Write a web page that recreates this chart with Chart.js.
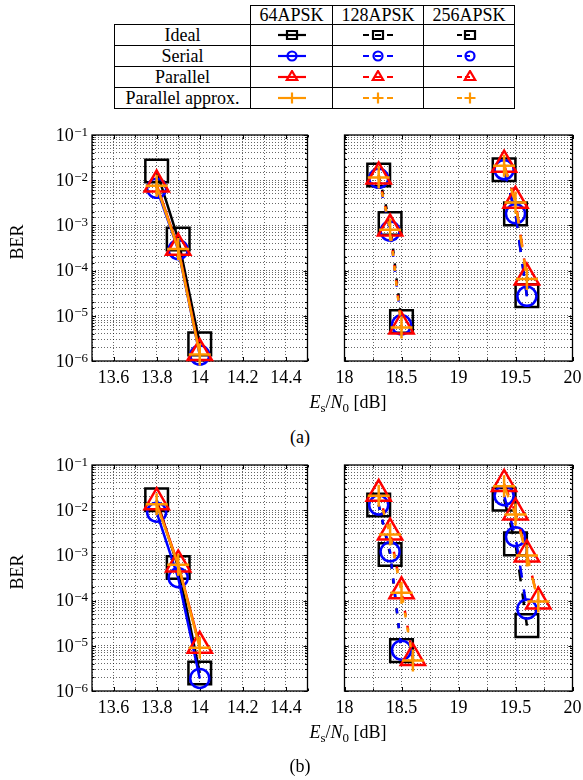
<!DOCTYPE html>
<html>
<head>
<meta charset="utf-8">
<script src="https://cdn.jsdelivr.net/npm/chart.js@4.4.1/dist/chart.umd.min.js"></script>
<style>
  body { margin: 0; width: 583px; height: 780px; overflow: hidden; background: #fff; position: relative;
         font-family: 'Liberation Serif', 'Times New Roman', serif; color: #000; }
  canvas.panel { position: absolute; }
  #legend { position: absolute; left: 114px; top: 5px; border-collapse: collapse; table-layout: fixed; font-size: 18px; }
  #legend td { border: 1px solid #000; padding: 0; text-align: center; line-height: 1; }
  #legend tr.head td { height: 18px; }
  #legend tr.row td { height: 20px; }
  #legend td.blank { border-top: none; border-left: none; }
  #legend canvas { display: block; margin: 0 auto; }
  .xt { position: absolute; width: 200px; text-align: center; font-size: 18px; line-height: 20px; }
  .xt sub { font-size: 13px; vertical-align: -4px; line-height: 0; }
  .cap { position: absolute; width: 60px; text-align: center; font-size: 18px; line-height: 20px; }
</style>
</head>
<body>

<table id="legend">
  <colgroup><col style="width:136px"><col style="width:82px"><col style="width:91px"><col style="width:91px"></colgroup>
  <tr class="head"><td class="blank"></td><td>64APSK</td><td>128APSK</td><td>256APSK</td></tr>
  <tr class="row"><td>Ideal</td><td><canvas width="36" height="14" data-k="ideal" data-v="64"></canvas></td><td><canvas width="36" height="14" data-k="ideal" data-v="128"></canvas></td><td><canvas width="36" height="14" data-k="ideal" data-v="256"></canvas></td></tr>
  <tr class="row"><td>Serial</td><td><canvas width="36" height="14" data-k="serial" data-v="64"></canvas></td><td><canvas width="36" height="14" data-k="serial" data-v="128"></canvas></td><td><canvas width="36" height="14" data-k="serial" data-v="256"></canvas></td></tr>
  <tr class="row"><td>Parallel</td><td><canvas width="36" height="14" data-k="parallel" data-v="64"></canvas></td><td><canvas width="36" height="14" data-k="parallel" data-v="128"></canvas></td><td><canvas width="36" height="14" data-k="parallel" data-v="256"></canvas></td></tr>
  <tr class="row"><td>Parallel approx.</td><td><canvas width="36" height="14" data-k="approx" data-v="64"></canvas></td><td><canvas width="36" height="14" data-k="approx" data-v="128"></canvas></td><td><canvas width="36" height="14" data-k="approx" data-v="256"></canvas></td></tr>
</table>

<canvas class="panel" id="chart-a-left" width="326" height="280" style="left:0px;top:115px"></canvas>
<canvas class="panel" id="chart-a-right" width="265" height="280" style="left:326px;top:115px"></canvas>
<div class="xt" style="left:248px;top:392px"><i>E</i><sub>s</sub>/<i>N</i><sub>0</sub> [dB]</div>
<div class="cap" style="left:270px;top:427px">(a)</div>

<canvas class="panel" id="chart-b-left" width="326" height="280" style="left:0px;top:445px"></canvas>
<canvas class="panel" id="chart-b-right" width="265" height="280" style="left:326px;top:445px"></canvas>
<div class="xt" style="left:248px;top:722px"><i>E</i><sub>s</sub>/<i>N</i><sub>0</sub> [dB]</div>
<div class="cap" style="left:270px;top:756px">(b)</div>

<script>
// ---- data (Es/N0 in dB, BER) ----
var snr64 = [13.8, 13.9, 14.0];
var snr128 = [18.3, 18.4, 18.5];
var snr256 = [19.4, 19.5, 19.6];
var snr128Long = [18.3, 18.4, 18.5, 18.6];
var snr256Long = [19.4, 19.5, 19.6, 19.7];

// (a)
var a64Ideal = [1.6e-2, 5.0e-4, 2.4e-6];
var a64Serial = [6.6e-3, 2.9e-4, 1.35e-6];
var a64Parallel = [8.0e-3, 3.2e-4, 1.5e-6];
var a64Approx = [7.5e-3, 3.0e-4, 1.4e-6];
var a128Ideal = [1.3e-2, 1.1e-3, 7.5e-6];
var a128Serial = [1.1e-2, 7.5e-4, 6.3e-6];
var a128Parallel = [1.2e-2, 8.5e-4, 5.8e-6];
var a128Approx = [1.15e-2, 8.0e-4, 5.5e-6];
var a256Ideal = [1.7e-2, 1.8e-3, 2.8e-5];
var a256Serial = [1.7e-2, 1.8e-3, 2.7e-5];
var a256Parallel = [2.2e-2, 3.5e-3, 7.0e-5];
var a256Approx = [2.1e-2, 3.2e-3, 6.5e-5];

// (b)
var b64Ideal = [1.7e-2, 5.4e-4, 2.5e-6];
var b64Serial = [9.0e-3, 3.2e-4, 1.9e-6];
var b64Parallel = [1.5e-2, 6.3e-4, 1.0e-5];
var b64Approx = [1.35e-2, 6.2e-4, 9.0e-6];
var b128Ideal = [1.3e-2, 1.05e-3, 7.8e-6];
var b128Serial = [1.3e-2, 1.2e-3, 8.0e-6];
var b128Parallel = [2.3e-2, 3.2e-3, 1.6e-4, 5.4e-6];
var b128Approx = [2.1e-2, 2.9e-3, 1.5e-4, 4.7e-6];
var b256Ideal = [1.75e-2, 1.8e-3, 2.8e-5];
var b256Serial = [2.1e-2, 2.6e-3, 6.5e-5];
var b256Parallel = [3.8e-2, 8.9e-3, 1.05e-3, 9.6e-5];
var b256Approx = [3.4e-2, 8.0e-3, 1.0e-3, 9.5e-5];

// axis tick labels
var berDecades = [-6, -5, -4, -3, -2, -1];
var yTitle = 'BER';

// ---- styles ----
var fontFamily = "'Liberation Serif', 'Times New Roman', serif";
var gridColor = 'rgba(0,0,0,0.6)';
var marks = {
    ideal:    { color: '#000000', style: 'rect',     radius: 16,  order: 3, small: 5 },
    serial:   { color: '#0000ff', style: 'circle',   radius: 9.5, order: 2, small: 4.5 },
    parallel: { color: '#ff0000', style: 'triangle', radius: 14,  order: 1, small: 6 },
    approx:   { color: '#ff9600', style: 'cross',    radius: 11,  order: 0, small: 5.5 }
};
var dash128 = [5, 10];
var dash256 = [12, 12];

function pts(xs, ys) {
    return xs.map(function (x, i) { return { x: x, y: ys[i] }; });
}

function series(kind, xs, ys, dash) {
    var m = marks[kind];
    return {
        label: kind,
        data: pts(xs, ys),
        borderColor: m.color,
        backgroundColor: 'rgba(0,0,0,0)',
        borderWidth: 2.5,
        borderDash: dash,
        pointStyle: m.style,
        pointRadius: m.radius,
        pointHoverRadius: m.radius,
        pointBorderWidth: 2.5,
        pointBorderColor: m.color,
        pointBackgroundColor: 'rgba(0,0,0,0)',
        tension: 0,
        fill: false,
        clip: false,
        order: m.order
    };
}

// frame + inward tick marks
var framePlugin = {
    id: 'frame',
    beforeDatasetsDraw: function (chart) {
        var ctx = chart.ctx, a = chart.chartArea;
        ctx.save();
        ctx.strokeStyle = '#000';
        ctx.lineWidth = 1;
        ctx.beginPath();
        chart.scales.y.ticks.forEach(function (t) {
            var py = Math.round(chart.scales.y.getPixelForValue(t.value)) + 0.5;
            var lg = Math.log10(t.value);
            var len = Math.abs(lg - Math.round(lg)) < 1e-6 ? 4 : 2.5;
            ctx.moveTo(a.left, py); ctx.lineTo(a.left + len, py);
            ctx.moveTo(a.right, py); ctx.lineTo(a.right - len, py);
        });
        chart.scales.x.ticks.forEach(function (t) {
            var px = Math.round(chart.scales.x.getPixelForValue(t.value)) + 0.5;
            var len = t.label ? 4 : 2.5;
            ctx.moveTo(px, a.bottom); ctx.lineTo(px, a.bottom - len);
            ctx.moveTo(px, a.top); ctx.lineTo(px, a.top + len);
        });
        ctx.stroke();
        ctx.lineWidth = 1.3;
        ctx.strokeRect(a.left, a.top, a.right - a.left, a.bottom - a.top);
        ctx.restore();
    }
};

// 10^k labels and the BER title on the left panels
var powLabelPlugin = {
    id: 'powLabels',
    afterDraw: function (chart, args, opts) {
        if (!opts.show) return;
        var ctx = chart.ctx, a = chart.chartArea, ys = chart.scales.y;
        var right = a.left - 4;
        ctx.save();
        ctx.fillStyle = '#000';
        berDecades.forEach(function (p) {
            var py = ys.getPixelForValue(Math.pow(10, p));
            var sup = '\u2212' + Math.abs(p);
            ctx.font = '13px ' + fontFamily;
            var sw = ctx.measureText(sup).width;
            ctx.textAlign = 'right';
            ctx.textBaseline = 'alphabetic';
            ctx.fillText(sup, right, py + 0.5);
            ctx.font = '18px ' + fontFamily;
            ctx.textBaseline = 'middle';
            ctx.fillText('10', right - sw - 0.5, py + 1);
        });
        ctx.translate(18, (a.top + a.bottom) / 2 - 6);
        ctx.rotate(-Math.PI / 2);
        ctx.textAlign = 'center';
        ctx.textBaseline = 'middle';
        ctx.font = '18px ' + fontFamily;
        ctx.fillText(yTitle, 0, 0);
        ctx.restore();
    }
};

function makePanel(id, xMin, xMax, step, labelEvery, padLeft, padRight, showY, datasets) {
    var ctx = document.getElementById(id).getContext('2d');
    return new Chart(ctx, {
        type: 'line',
        data: { datasets: datasets },
        options: {
            responsive: false,
            animation: false,
            events: [],
            layout: { padding: { left: padLeft, right: padRight, top: 20, bottom: 0 } },
            plugins: {
                legend: { display: false },
                tooltip: { enabled: false },
                powLabels: { show: showY }
            },
            scales: {
                x: {
                    type: 'linear',
                    min: xMin,
                    max: xMax,
                    afterFit: function (s) { s.height = 34; },
                    ticks: {
                        stepSize: step,
                        autoSkip: false,
                        maxRotation: 0,
                        padding: 6,
                        color: '#000',
                        font: { family: fontFamily, size: 18 },
                        callback: function (v) {
                            var k = Math.round(v / step);
                            return k % labelEvery === 0 ? String(Math.round(v * 100) / 100) : '';
                        }
                    },
                    grid: { color: gridColor, lineWidth: 1, drawTicks: false },
                    border: { display: false, dash: [1, 2] }
                },
                y: {
                    type: 'logarithmic',
                    min: 1e-6,
                    max: 1e-1,
                    afterFit: function (s) { s.width = 0; },
                    ticks: { display: false, autoSkip: false },
                    grid: { color: gridColor, lineWidth: 1, drawTicks: false },
                    border: { display: false, dash: [1, 2] }
                }
            }
        },
        plugins: [framePlugin, powLabelPlugin]
    });
}

// (a) panels
makePanel('chart-a-left', 13.5, 14.5, 0.1, 2, 92, 8, true, [
    series('ideal', snr64, a64Ideal, []),
    series('serial', snr64, a64Serial, []),
    series('parallel', snr64, a64Parallel, []),
    series('approx', snr64, a64Approx, [])
]);
makePanel('chart-a-right', 18, 20, 0.25, 2, 11, 16, false, [
    series('ideal', snr128, a128Ideal, dash128),
    series('serial', snr128, a128Serial, dash128),
    series('parallel', snr128, a128Parallel, dash128),
    series('approx', snr128, a128Approx, dash128),
    series('ideal', snr256, a256Ideal, dash256),
    series('serial', snr256, a256Serial, dash256),
    series('parallel', snr256, a256Parallel, dash256),
    series('approx', snr256, a256Approx, dash256)
]);

// (b) panels
makePanel('chart-b-left', 13.5, 14.5, 0.1, 2, 92, 8, true, [
    series('ideal', snr64, b64Ideal, []),
    series('serial', snr64, b64Serial, []),
    series('parallel', snr64, b64Parallel, []),
    series('approx', snr64, b64Approx, [])
]);
makePanel('chart-b-right', 18, 20, 0.25, 2, 11, 16, false, [
    series('ideal', snr128, b128Ideal, dash128),
    series('serial', snr128, b128Serial, dash128),
    series('parallel', snr128Long, b128Parallel, dash128),
    series('approx', snr128Long, b128Approx, dash128),
    series('ideal', snr256, b256Ideal, dash256),
    series('serial', snr256, b256Serial, dash256),
    series('parallel', snr256Long, b256Parallel, dash256),
    series('approx', snr256Long, b256Approx, dash256)
]);

// ---- legend table icons ----
function drawMark(ctx, kind, x, y) {
    var m = marks[kind], r = m.small;
    ctx.beginPath();
    if (kind === 'ideal') {
        ctx.rect(x - r, y - r + 1, 2 * r, 2 * r - 2);
    } else if (kind === 'serial') {
        ctx.arc(x, y, r, 0, Math.PI * 2);
    } else if (kind === 'parallel') {
        ctx.moveTo(x, y - r);
        ctx.lineTo(x + r * 0.87, y + r * 0.5);
        ctx.lineTo(x - r * 0.87, y + r * 0.5);
        ctx.closePath();
    } else {
        ctx.moveTo(x - r, y); ctx.lineTo(x + r, y);
        ctx.moveTo(x, y - r); ctx.lineTo(x, y + r);
    }
    ctx.stroke();
}

var iconSegments = {
    '64':  [[4, 32]],
    '128': [[3, 9], [15, 21], [27, 33]],
    '256': [[5, 10], [13, 18]]
};

document.querySelectorAll('#legend canvas').forEach(function (c) {
    var ctx = c.getContext('2d');
    var kind = c.dataset.k, v = c.dataset.v;
    var color = marks[kind].color;
    var cx = v === '256' ? 19 : 18, cy = 7;
    ctx.strokeStyle = color;
    ctx.lineWidth = 2.2;
    ctx.beginPath();
    iconSegments[v].forEach(function (s) {
        ctx.moveTo(s[0] + (v === '256' ? 1 : 0), cy);
        ctx.lineTo(s[1] + (v === '256' ? 1 : 0), cy);
    });
    ctx.stroke();
    drawMark(ctx, kind, cx, cy);
});
</script>
</body>
</html>
